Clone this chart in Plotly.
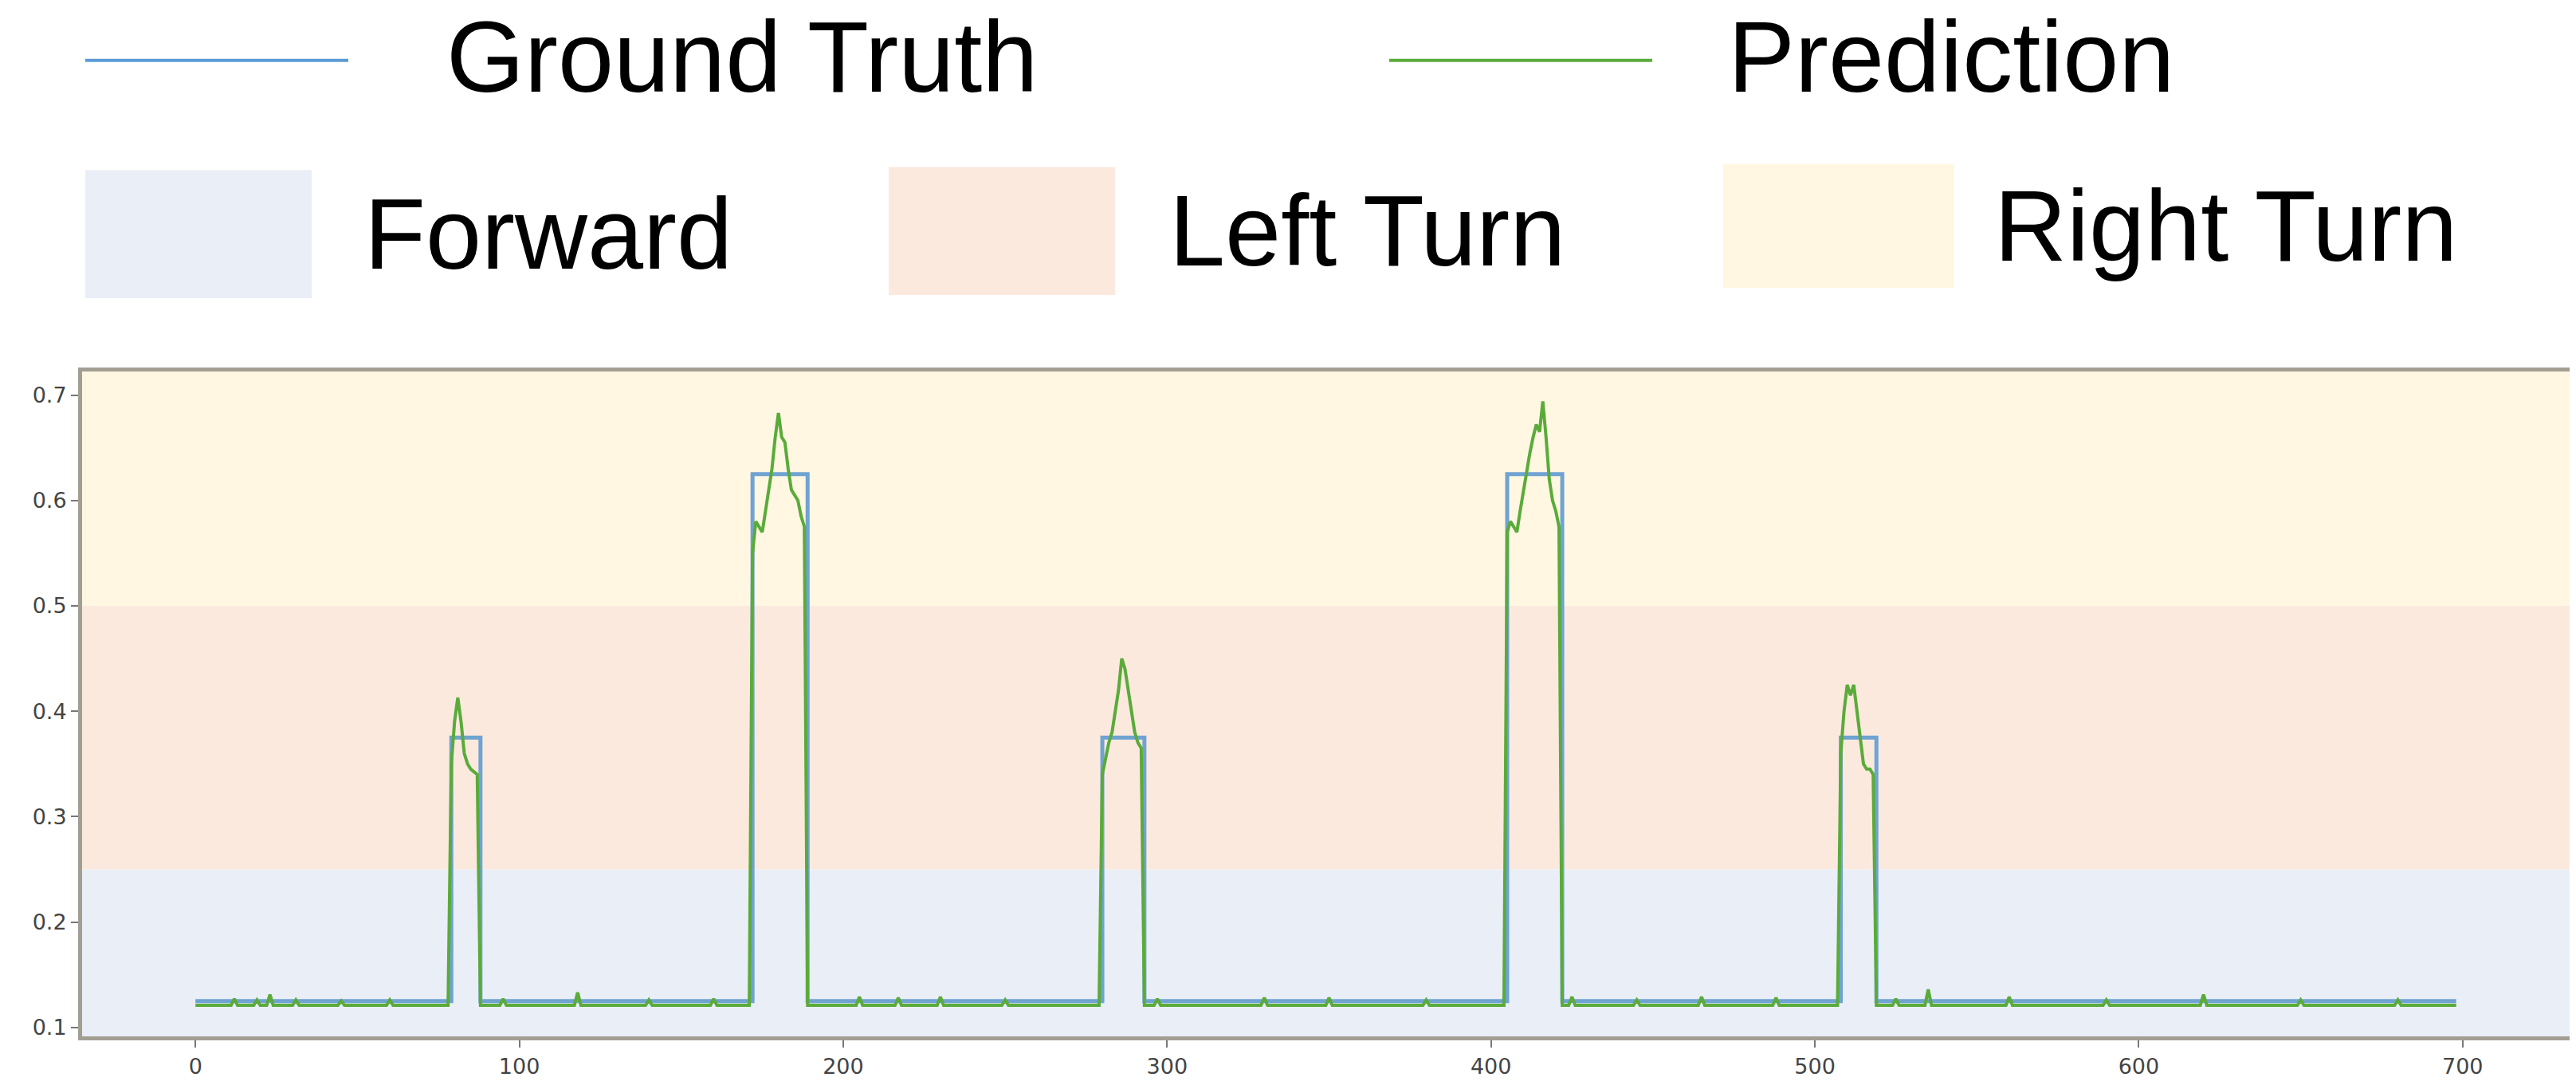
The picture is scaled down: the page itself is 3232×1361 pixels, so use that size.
import plotly.graph_objects as go

# frame indices 0..698
n_frames = 699
frames = list(range(n_frames))

# ground truth: baseline level and (start, end, level) segments
gt_base = 0.125
gt_segments = [(79, 87, 0.375), (172, 188, 0.625), (280, 292, 0.375),
               (405, 421, 0.625), (508, 518, 0.375)]

# prediction: baseline level, small bumps, and read-off peak values
pred_base = 0.121
pred_bumps = {12: 0.127, 19: 0.126, 23: 0.131, 31: 0.126, 45: 0.125, 60: 0.126,
              95: 0.127, 118: 0.133, 140: 0.126, 160: 0.127, 205: 0.129,
              217: 0.128, 230: 0.129, 250: 0.126, 297: 0.127, 330: 0.128,
              350: 0.128, 380: 0.126, 425: 0.129, 445: 0.126, 465: 0.129,
              488: 0.128, 525: 0.127, 535: 0.136, 560: 0.129, 590: 0.126,
              620: 0.131, 650: 0.126, 680: 0.126}
pred_peaks = {
    79: [0.35, 0.39, 0.413, 0.39, 0.36, 0.35, 0.345, 0.342, 0.34],
    172: [0.55, 0.58, 0.575, 0.57, 0.59, 0.61, 0.63, 0.66, 0.683, 0.66,
          0.655, 0.63, 0.61, 0.605, 0.6, 0.585, 0.575],
    280: [0.34, 0.355, 0.37, 0.38, 0.40, 0.42, 0.45, 0.44, 0.42, 0.40,
          0.38, 0.37, 0.365],
    405: [0.57, 0.58, 0.575, 0.57, 0.59, 0.61, 0.625, 0.645, 0.66, 0.672,
          0.665, 0.694, 0.66, 0.62, 0.60, 0.59, 0.575],
    508: [0.36, 0.40, 0.425, 0.415, 0.425, 0.40, 0.37, 0.35, 0.345,
          0.345, 0.34],
}

gt = [gt_base] * n_frames
for a, b, v in gt_segments:
    for i in range(a, b + 1):
        gt[i] = v
pred = [pred_base] * n_frames
for i, v in pred_bumps.items():
    pred[i] = v
for s, vals in pred_peaks.items():
    for k, v in enumerate(vals):
        pred[s + k] = v

bands = [(0.0, 0.25, "#e9eef7"), (0.25, 0.5, "#fbe9de"), (0.5, 1.0, "#fff7e2")]

fig = go.Figure()
fig.add_trace(go.Scatter(x=frames, y=gt, mode="lines", line_shape="hv",
                         line={"color": "#6fa3d2", "width": 5}))
fig.add_trace(go.Scatter(x=frames, y=pred, mode="lines",
                         line={"color": "#5aab3a", "width": 4}))

for lo, hi, c in bands:
    fig.add_shape(type="rect", xref="x domain", yref="y", x0=0, x1=1, y0=lo, y1=hi,
                  fillcolor=c, line_width=0, layer="below")

W, H = 3232, 1361
def px(x):
    return x / W
def py(y):
    return 1 - y / H

big_font = {"size": 126, "color": "black", "family": "Liberation Sans"}

# legend row 1: line samples
for x0, x1, c, label, tx in [(99, 429, "#5b9bd5", "Ground Truth", 550),
                             (1735, 2065, "#5aab3a", "Prediction", 2158)]:
    fig.add_shape(type="line", xref="paper", yref="paper", x0=px(x0), x1=px(x1),
                  y0=py(68), y1=py(68), line={"color": c, "width": 4})
    fig.add_annotation(xref="paper", yref="paper", x=px(tx), y=py(64), text=label,
                       showarrow=False, xanchor="left", yanchor="middle", font=big_font)
# legend row 2: colour patches
for x0, x1, y0, y1, c, label, tx in [(99, 383, 206, 367, "#e9eef7", "Forward", 447),
                                     (1107, 1391, 202, 363, "#fbe9de", "Left Turn", 1457),
                                     (2154, 2444, 198, 354, "#fff7e2", "Right Turn", 2492)]:
    fig.add_shape(type="rect", xref="paper", yref="paper", x0=px(x0), x1=px(x1),
                  y0=py(y1), y1=py(y0), fillcolor=c, line_width=0)
    fig.add_annotation(xref="paper", yref="paper", x=px(tx), y=py((y0 + y1) / 2),
                       text=label, showarrow=False, xanchor="left", yanchor="middle",
                       font=big_font)

axis_common = dict(showline=True, linecolor="#a39e92", linewidth=5, mirror=True,
                   ticks="outside", ticklen=9, tickcolor="#777", tickwidth=2,
                   showgrid=False, zeroline=False,
                   tickfont={"size": 27, "color": "#444", "family": "DejaVu Sans"})
fig.update_layout(
    width=W, height=H, showlegend=False, plot_bgcolor="white", paper_bgcolor="white",
    margin={"l": 0, "r": 0, "t": 0, "b": 0},
    xaxis=dict(range=[-35, 735], domain=[px(95), px(3224)],
               tickvals=[0, 100, 200, 300, 400, 500, 600, 700], **axis_common),
    yaxis=dict(range=[0.0913, 0.7226], domain=[py(1296), py(459)],
               tickvals=[0.1, 0.2, 0.3, 0.4, 0.5, 0.6, 0.7], **axis_common),
)

fig.write_html("out.html")
